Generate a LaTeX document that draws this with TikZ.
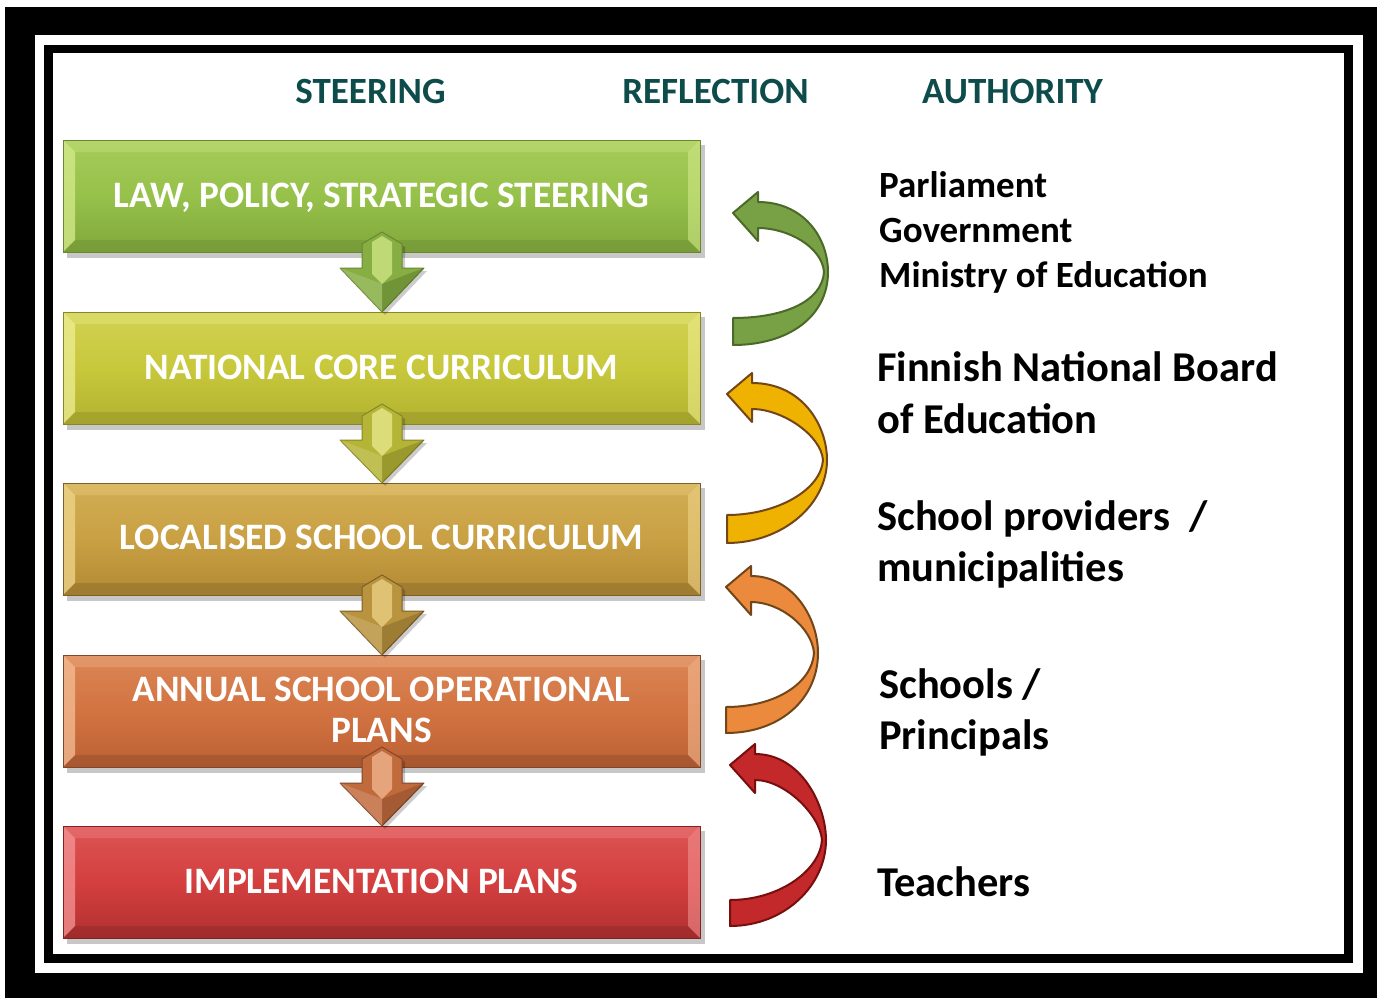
\documentclass[tikz,border=0pt]{standalone}
\usepackage{fontspec}
\setmainfont{Carlito}
\definecolor{hdrteal}{RGB}{14,76,76}
% box colours
\definecolor{gA}{RGB}{150,193,74}\definecolor{gAl}{RGB}{214,236,140}\definecolor{gAd}{RGB}{128,168,60}\definecolor{gAb}{RGB}{105,135,50}
\definecolor{gB}{RGB}{200,200,60}\definecolor{gBl}{RGB}{238,238,150}\definecolor{gBd}{RGB}{178,178,48}\definecolor{gBb}{RGB}{135,135,40}
\definecolor{gC}{RGB}{201,160,67}\definecolor{gCl}{RGB}{240,215,140}\definecolor{gCd}{RGB}{178,138,52}\definecolor{gCb}{RGB}{125,95,40}
\definecolor{gD}{RGB}{210,115,65}\definecolor{gDl}{RGB}{245,190,150}\definecolor{gDd}{RGB}{188,96,52}\definecolor{gDb}{RGB}{130,70,40}
\definecolor{gE}{RGB}{212,63,63}\definecolor{gEl}{RGB}{245,150,150}\definecolor{gEd}{RGB}{178,48,48}\definecolor{gEb}{RGB}{130,35,35}
% reflection arrows
\definecolor{rA}{RGB}{120,160,68}\definecolor{rAb}{RGB}{75,105,40}
\definecolor{rB}{RGB}{240,178,0}\definecolor{rBb}{RGB}{115,70,25}
\definecolor{rC}{RGB}{235,138,60}\definecolor{rCb}{RGB}{115,70,25}
\definecolor{rD}{RGB}{195,40,42}\definecolor{rDb}{RGB}{120,15,15}
\tikzset{
  hdr/.style={anchor=base, text=hdrteal, font=\fontsize{37}{40}\selectfont\bfseries},
  boxtext/.style={anchor=base, text=white, font=\fontsize{37.3}{40}\selectfont\bfseries, inner sep=0pt},
  boxframe/.style={draw=#1, line width=1.2pt, minimum width=637pt, minimum height=112pt, inner sep=0pt, anchor=north west},
  rtsmall/.style={anchor=base west, text=black, font=\fontsize{37}{40}\selectfont\bfseries, inner sep=0pt},
  rtbig/.style={anchor=base west, text=black, font=\fontsize{42.5}{46}\selectfont\bfseries, inner sep=0pt},
}
% bevelled box: #1 name, #2 top y, #3 base, #4 light, #5 dark, #6 border
\newcommand\bevelbox[6]{%
  \fill[black,opacity=.22] (67,{#2+5}) rectangle (705,{#2+118});
  \fill[top color=#4!25!#3, bottom color=#5, middle color=#3] (63,#2) rectangle (700,{#2+112});
  \fill[#4,opacity=.3] (63,#2) -- (700,#2) -- (688,{#2+12}) -- (75,{#2+12}) -- cycle;
  \fill[#4,opacity=.75] (63,#2) -- (75,{#2+12}) -- (75,{#2+100}) -- (63,{#2+112}) -- cycle;
  \fill[#4,opacity=.55] (700,#2) -- (688,{#2+12}) -- (688,{#2+100}) -- (700,{#2+112}) -- cycle;
  \fill[#6,opacity=.35] (63,{#2+112}) -- (700,{#2+112}) -- (688,{#2+100}) -- (75,{#2+100}) -- cycle;
  \node[boxframe=#6] (#1) at (63,#2) {};
}
% down arrow: #1 box bottom y, #2 tip y, #3 fill, #4 light, #5 border
\newcommand\steerarrow[5]{%
  \fill[black,opacity=.2] (365,{#1-5}) -- (385,{#1-17}) -- (405,{#1-5}) -- (405,{#1+19}) -- (427,{#1+19}) -- (385,{#2+3}) -- (343,{#1+19}) -- (365,{#1+19}) -- cycle;
  \filldraw[fill=#3, draw=#5, line width=1pt, line join=round]
    (362,{#1-8}) -- (382,{#1-20}) -- (402,{#1-8}) -- (402,{#1+16}) -- (424,{#1+16})
    -- (382,#2) -- (340,{#1+16}) -- (362,{#1+16}) -- cycle;
  \fill[#4,opacity=.7] (372,{#1-10}) -- (382,{#1-16}) -- (392,{#1-10}) -- (392,{#1+22}) -- (382,{#1+32}) -- (372,{#1+22}) -- cycle;
  \fill[black,opacity=.15] (382,{#1+32}) -- (424,{#1+16}) -- (382,#2) -- cycle;
  \fill[white,opacity=.15] (382,{#1+32}) -- (340,{#1+16}) -- (382,#2) -- cycle;
}
% reflection arrow: #1 tip x, #2 tip y, #3 right x, #4 right y, #5 tail top, #6 tail bottom, #7 fill, #8 border
\newcommand\reflarrow[8]{%
  \filldraw[fill=#7, draw=#8, line width=2pt, line join=round]
    (#1,#2) -- ({#1+25},{#2-21}) -- ({#1+25},{#2-11})
    .. controls ({#3-25},{#2-11}) and (#3,{#4-35}) .. (#3,#4)
    .. controls (#3,{#4+45}) and ({#1+55},#6) .. (#1,#6)
    -- (#1,#5)
    .. controls ({#1+50},#5) and ({#3-6},{#4+30}) .. ({#3-4},#4)
    .. controls ({#3-6},{#4-25}) and ({#1+55},{#2+15}) .. ({#1+25},{#2+15})
    -- ({#1+25},{#2+28}) -- cycle;
}
\begin{document}
\begin{tikzpicture}[x=1pt,y=-1pt]
\useasboundingbox (0,0) rectangle (1377,998);
\fill[white] (0,0) rectangle (1377,998);
\fill[black] (5,7) rectangle (1377,998);
\fill[white] (35,35) rectangle (1363,973);
\fill[black] (44,45) rectangle (1353,963);
\fill[white] (53,53) rectangle (1344,954);

% headers
\node[hdr] (hs) at (370.5,103) {STEERING};
\node[hdr] (hr) at (715.5,103) {REFLECTION};
\node[hdr] (ha) at (1012.5,103) {AUTHORITY};

% boxes
\bevelbox{b1}{140}{gA}{gAl}{gAd}{gAb}
\bevelbox{b2}{312}{gB}{gBl}{gBd}{gBb}
\bevelbox{b3}{483}{gC}{gCl}{gCd}{gCb}
\bevelbox{b4}{655}{gD}{gDl}{gDd}{gDb}
\bevelbox{b5}{826}{gE}{gEl}{gEd}{gEb}

% down arrows
\steerarrow{252}{312}{gA!90!black}{gAl}{gAb}
\steerarrow{424}{483}{gB!90!black}{gBl}{gBb}
\steerarrow{595}{655}{gC!92!black}{gCl}{gCb}
\steerarrow{767}{826}{gD!92!black}{gDl}{gDb}

% box texts
\node[boxtext] (t1) at (381.5,207) {LAW, POLICY, STRATEGIC STEERING};
\node[boxtext] (t2) at (381.5,379) {NATIONAL CORE CURRICULUM};
\node[boxtext] (t3) at (381.5,549) {LOCALISED SCHOOL CURRICULUM};
\node[boxtext] (t4a) at (381.5,701) {ANNUAL SCHOOL OPERATIONAL};
\node[boxtext] (t4b) at (381.5,742) {PLANS};
\node[boxtext] (t5) at (381.5,893) {IMPLEMENTATION PLANS};

% reflection arrows
\reflarrow{733}{213}{828}{272}{318}{345}{rA}{rAb}
\reflarrow{727}{394}{827}{460}{515}{543}{rB}{rBb}
\reflarrow{726}{587}{818}{653}{707}{733}{rC}{rCb}
\reflarrow{730}{765}{826}{840}{900}{926}{rD}{rDb}

% authority texts
\node[rtsmall] (a1) at (879,197) {Parliament};
\node[rtsmall] (a2) at (879,242) {Government};
\node[rtsmall] (a3) at (879,287) {Ministry of Education};
\node[rtbig] (a4) at (877,381) {Finnish National Board};
\node[rtbig] (a5) at (877,433) {of Education};
\node[rtbig] (a6) at (877,530) {School providers~~/};
\node[rtbig] (a7) at (877,581) {municipalities};
\node[rtbig] (a8) at (879,698) {Schools /};
\node[rtbig] (a9) at (879,749) {Principals};
\node[rtbig] (a10) at (877,896) {Teachers};
\end{tikzpicture}
\end{document}
